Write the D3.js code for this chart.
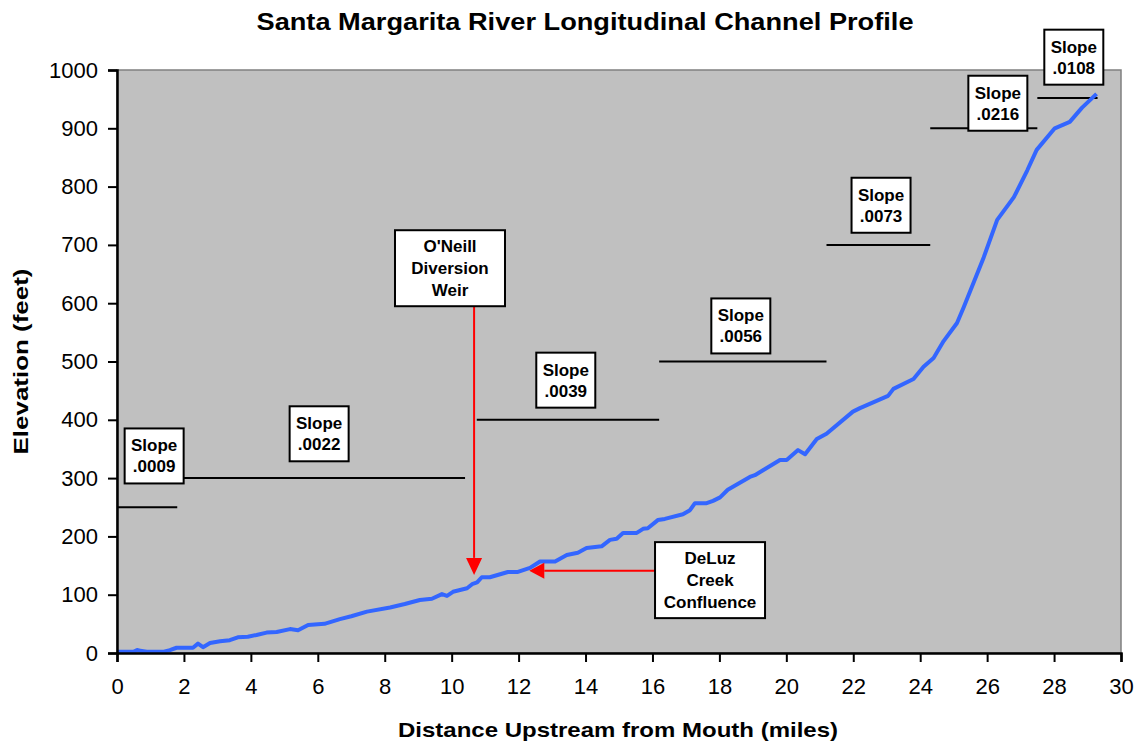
<!DOCTYPE html>
<html>
<head>
<meta charset="utf-8">
<script src="https://cdn.jsdelivr.net/npm/d3@7"></script>
<style>
  body { margin: 0; background: #fff; }
  svg text { font-family: "Liberation Sans", Arial, sans-serif; fill: #000; }
</style>
</head>
<body>
<div id="chart"></div>
<script>
// River profile (distance in miles, elevation in feet)
const miles = [0, 0.49, 0.6, 0.69, 0.89, 1.37, 1.58, 1.78, 2.27, 2.42, 2.57, 2.78, 3.08, 3.37, 3.61, 3.91,
  4.17, 4.47, 4.77, 5.17, 5.41, 5.71, 6.2, 6.66, 7.0, 7.47, 8.16, 8.6, 9.05, 9.41, 9.71, 9.86, 10.04,
  10.46, 10.61, 10.76, 10.9, 11.14, 11.68, 11.98, 12.34, 12.64, 13.09, 13.44, 13.77, 14.03, 14.48,
  14.73, 14.93, 15.12, 15.53, 15.72, 15.86, 16.16, 16.37, 16.91, 17.12, 17.27, 17.62, 17.81, 18.02,
  18.25, 18.91, 19.06, 19.81, 20.01, 20.35, 20.56, 20.91, 21.2, 21.99, 22.2, 23.04, 23.2, 23.8, 24.1,
  24.4, 24.7, 25.1, 25.3, 25.9, 26.3, 26.8, 27.2, 27.48, 28.02, 28.47, 28.83, 29.27];
const elevation = [2, 2, 5, 4, 2, 2, 5, 9, 9, 16, 10, 17, 20, 22, 27, 28,
  31, 35, 36, 41, 39, 48, 50, 58, 63, 71, 78, 84, 91, 93, 101, 98, 105,
  111, 118, 121, 130, 130, 139, 139, 146, 157, 157, 168, 172, 180, 183,
  194, 196, 206, 206, 213, 214, 228, 230, 238, 245, 257, 257, 261, 267,
  280, 302, 305, 331, 331, 348, 341, 367, 376, 414, 420, 441, 453, 470, 491,
  506, 535, 566, 593, 679, 743, 782, 828, 863, 900, 911, 935, 959];

// Reach slopes: label, start / end mile, elevation of the marker line, label box centre
const slopeLabels = [".0009", ".0022", ".0039", ".0056", ".0073", ".0216", ".0108"];
const slopeStart = [0, 1.8, 10.75, 16.2, 21.2, 24.3, 27.5];
const slopeEnd = [1.8, 10.4, 16.2, 21.2, 24.3, 27.5, 29.3];
const slopeElev = [250, 300, 400, 500, 700, 900, 952];
const slopeBoxMile = [1.11, 6.04, 13.41, 18.64, 22.83, 26.32, 28.59];
const slopeBoxElev = [338, 376, 468, 561, 768, 943, 1022];

// Callouts with red arrows
const noteLines = [["O'Neill", "Diversion", "Weir"], ["DeLuz", "Creek", "Confluence"]];
const noteBoxMile = [9.95, 17.72];
const noteBoxElev = [660, 125];
const noteTipMile = [10.67, 12.32];
const noteTipElev = [134, 141];

const xTicks = d3.range(0, 31, 2);
const yTicks = d3.range(0, 1001, 100);

const width = 1139, height = 744;
const margin = { top: 70, right: 18, bottom: 91, left: 117 };

const svg = d3.select('#chart').append('svg')
  .attr('width', width)
  .attr('height', height);

const x = d3.scaleLinear().domain([0, 30]).range([margin.left, width - margin.right]);
const y = d3.scaleLinear().domain([0, 1000]).range([height - margin.bottom, margin.top]);

// plot area
svg.append('rect')
  .attr('x', x(0)).attr('y', y(1000))
  .attr('width', x(30) - x(0)).attr('height', y(0) - y(1000))
  .attr('fill', '#c0c0c0')
  .attr('stroke', '#808080')
  .attr('stroke-width', 1.5);

// title (the original is stretched wider than the font's natural width)
svg.append('text')
  .attr('x', 585).attr('y', 30)
  .attr('text-anchor', 'middle')
  .attr('font-size', 23).attr('font-weight', 'bold')
  .attr('textLength', 657).attr('lengthAdjust', 'spacingAndGlyphs')
  .text('Santa Margarita River Longitudinal Channel Profile');

// slope marker lines
svg.append('g').selectAll('line')
  .data(slopeLabels)
  .enter().append('line')
  .attr('x1', (d, i) => x(slopeStart[i]))
  .attr('x2', (d, i) => x(slopeEnd[i]))
  .attr('y1', (d, i) => y(slopeElev[i]))
  .attr('y2', (d, i) => y(slopeElev[i]))
  .attr('stroke', '#000')
  .attr('stroke-width', 2);

// profile line
const line = d3.line()
  .x((d, i) => x(miles[i]))
  .y(d => y(d));

svg.append('path')
  .datum(elevation)
  .attr('d', line)
  .attr('fill', 'none')
  .attr('stroke', '#3366ff')
  .attr('stroke-width', 4)
  .attr('stroke-linejoin', 'round');

// axes
const xAxis = svg.append('g')
  .attr('transform', `translate(0,${y(0)})`)
  .call(d3.axisBottom(x).tickValues(xTicks).tickSize(9).tickPadding(16));
const yAxis = svg.append('g')
  .attr('transform', `translate(${x(0)},0)`)
  .call(d3.axisLeft(y).tickValues(yTicks).tickFormat(d3.format('d')).tickSize(9).tickPadding(10));

[xAxis, yAxis].forEach(g => {
  g.select('.domain').attr('stroke', '#000').attr('stroke-width', 2.5);
  g.selectAll('.tick line').attr('stroke', '#000').attr('stroke-width', 2);
  g.selectAll('.tick text')
    .attr('font-size', 22)
    .attr('font-family', '"Liberation Sans", Arial, sans-serif')
    .attr('fill', '#000');
});

// axis titles
svg.append('text')
  .attr('x', 618).attr('y', 737)
  .attr('text-anchor', 'middle')
  .attr('font-size', 21).attr('font-weight', 'bold')
  .attr('textLength', 440).attr('lengthAdjust', 'spacingAndGlyphs')
  .text('Distance Upstream from Mouth (miles)');

svg.append('text')
  .attr('transform', `translate(28,${(y(0) + y(1000)) / 2}) rotate(-90)`)
  .attr('text-anchor', 'middle')
  .attr('font-size', 21).attr('font-weight', 'bold')
  .attr('textLength', 186).attr('lengthAdjust', 'spacingAndGlyphs')
  .text('Elevation (feet)');

// red callout arrows
const red = '#ff0000';
const noteW = 110, noteH = 76;
noteLines.forEach((lines, i) => {
  const cx = x(noteBoxMile[i]), cy = y(noteBoxElev[i]);
  const tx = x(noteTipMile[i]), ty = y(noteTipElev[i]);
  let sx, sy, head;
  if (ty > cy + noteH / 2) {
    // arrow pointing down from the box bottom
    sx = tx; sy = cy + noteH / 2;
    head = [[tx, ty], [tx - 8, ty - 17], [tx + 8, ty - 17]];
  } else {
    // arrow pointing left from the box side
    sx = cx - noteW / 2; sy = ty;
    head = [[tx, ty], [tx + 15, ty - 8], [tx + 15, ty + 8]];
  }
  svg.append('line')
    .attr('x1', sx).attr('y1', sy)
    .attr('x2', (head[1][0] + head[2][0]) / 2).attr('y2', (head[1][1] + head[2][1]) / 2)
    .attr('stroke', red).attr('stroke-width', 2);
  svg.append('path')
    .attr('d', d3.line()(head) + 'Z')
    .attr('fill', red);
});

// label boxes
function labelBox(cx, cy, w, h, lines, lh) {
  const g = svg.append('g');
  g.append('rect')
    .attr('x', cx - w / 2).attr('y', cy - h / 2)
    .attr('width', w).attr('height', h)
    .attr('fill', '#fff')
    .attr('stroke', '#000')
    .attr('stroke-width', 2);
  const top = cy - (lines.length - 1) * lh / 2;
  lines.forEach((t, k) => {
    g.append('text')
      .attr('x', cx).attr('y', top + k * lh)
      .attr('dy', '0.35em')
      .attr('text-anchor', 'middle')
      .attr('font-size', 17).attr('font-weight', 'bold')
      .text(t);
  });
}

slopeLabels.forEach((s, i) => {
  labelBox(x(slopeBoxMile[i]), y(slopeBoxElev[i]), 59, 55, ['Slope', s], 21);
});
noteLines.forEach((lines, i) => {
  labelBox(x(noteBoxMile[i]), y(noteBoxElev[i]), noteW, noteH, lines, 22);
});
</script>
</body>
</html>
